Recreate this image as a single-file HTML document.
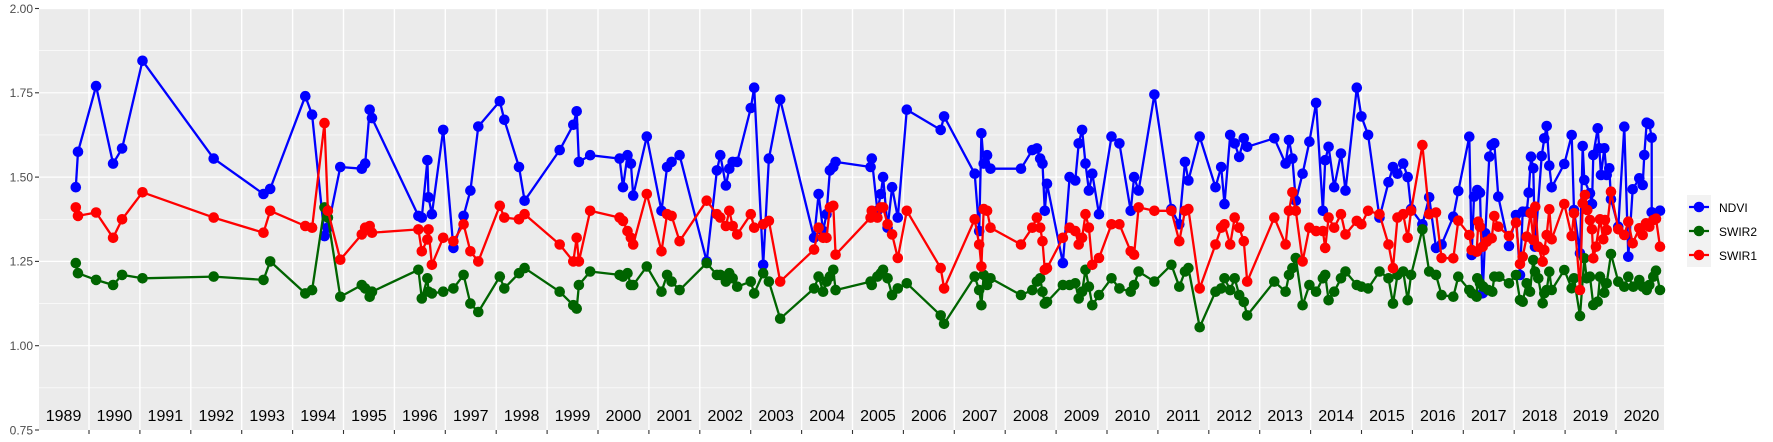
<!DOCTYPE html>
<html><head><meta charset="utf-8"><style>
html,body{margin:0;padding:0;background:#fff;}
svg{display:block;font-family:"Liberation Sans",sans-serif;}
</style></head><body>
<svg id="s" width="1773" height="442" viewBox="0 0 1773 442" xmlns="http://www.w3.org/2000/svg">
<rect x="39" y="8" width="1625" height="422" fill="#EBEBEB"/>
<g id="grid"></g>
<g id="series"></g>
<g id="axes" font-size="12" fill="#4D4D4D"></g>
<g id="leg">
<rect x="1687" y="195" width="24" height="72" fill="#F2F2F2"/>
<line x1="1689" y1="207" x2="1709" y2="207" stroke="#0000FF" stroke-width="2.3"/><circle cx="1699" cy="207" r="5.3" fill="#0000FF"/>
<line x1="1689" y1="231" x2="1709" y2="231" stroke="#006400" stroke-width="2.3"/><circle cx="1699" cy="231" r="5.3" fill="#006400"/>
<line x1="1689" y1="255" x2="1709" y2="255" stroke="#FF0000" stroke-width="2.3"/><circle cx="1699" cy="255" r="5.3" fill="#FF0000"/>
<text x="1719" y="212" font-size="12" fill="#000">NDVI</text>
<text x="1719" y="236" font-size="12" fill="#000">SWIR2</text>
<text x="1719" y="260" font-size="12" fill="#000">SWIR1</text>
</g>
</svg>
<script>
var NS="http://www.w3.org/2000/svg";
function el(p,t,a,txt){var e=document.createElementNS(NS,t);for(var k in a)e.setAttribute(k,a[k]);if(txt!=null)e.textContent=txt;p.appendChild(e);return e;}
function Y(v){return 430-(v-0.75)*337.2;}
function XY(t){return 89+(t-1990)*50.9;}
var g=document.getElementById('grid');
for(var v=0.875;v<2.0;v+=0.25)el(g,'line',{x1:39,x2:1664,y1:Y(v),y2:Y(v),stroke:'#fff','stroke-width':0.6});
for(var v=1.0;v<=2.0;v+=0.25)el(g,'line',{x1:39,x2:1664,y1:Y(v),y2:Y(v),stroke:'#fff','stroke-width':1.2});
for(var yr=1990;yr<=2020;yr++){var x=XY(yr);el(g,'line',{x1:x,x2:x,y1:8,y2:430,stroke:'#fff','stroke-width':1.4});}
var ax=document.getElementById('axes');
[0.75,1.0,1.25,1.5,1.75,2.0].forEach(function(v){el(ax,'text',{x:33,y:Y(v)+4.3,'text-anchor':'end'},v.toFixed(2));el(ax,'line',{x1:35,x2:39,y1:Y(v),y2:Y(v),stroke:'#333','stroke-width':1.1});});
for(var yr=1990;yr<=2020;yr++){var x=XY(yr);el(ax,'line',{x1:x,x2:x,y1:430,y2:434,stroke:'#333','stroke-width':1.1});}
for(var yr=1989;yr<=2020;yr++){var x=XY(yr+0.5);el(ax,'text',{x:x,y:421,'text-anchor':'middle','font-size':16,fill:'#000'},String(yr));}
var D=[[67,1.47,1.245,1.41],[69,1.575,1.215,1.385],[85,1.77,1.195,1.395],[100,1.54,1.18,1.32],[108,1.585,1.21,1.375],[126,1.845,1.2,1.455],[189,1.555,1.205,1.38],[233,1.45,1.195,1.335],[239,1.465,1.25,1.40],[270,1.74,1.155,1.355],[276,1.685,1.165,1.35],[287,1.325,1.41,1.66],[290,1.35,1.38,1.40],[301,1.53,1.145,1.255],[320,1.525,1.18,1.33],[323,1.54,1.17,1.35],[327,1.70,1.145,1.355],[329,1.675,1.16,1.335],[370,1.385,1.225,1.345],[373,1.38,1.14,1.28],[378,1.55,1.20,1.315],[379,1.44,1.16,1.345],[382,1.39,1.155,1.24],[392,1.64,1.16,1.32],[401,1.29,1.17,1.31],[410,1.385,1.21,1.36],[416,1.46,1.125,1.28],[423,1.65,1.10,1.25],[442,1.725,1.205,1.415],[446,1.67,1.17,1.38],[459,1.53,1.215,1.375],[464,1.43,1.23,1.39],[495,1.58,1.16,1.30],[507,1.655,1.12,1.25],[510,1.695,1.11,1.32],[512,1.545,1.18,1.25],[522,1.565,1.22,1.40],[548,1.555,1.21,1.38],[551,1.47,1.205,1.37],[555,1.565,1.215,1.34],[558,1.54,1.18,1.32],[560,1.445,1.18,1.30],[572,1.62,1.235,1.45],[585,1.40,1.16,1.28],[590,1.53,1.21,1.39],[594,1.545,1.19,1.385],[601,1.565,1.165,1.31],[625,1.25,1.245,1.43],[634,1.52,1.21,1.39],[637,1.565,1.21,1.38],[642,1.475,1.19,1.355],[645,1.525,1.215,1.40],[648,1.545,1.20,1.355],[652,1.545,1.175,1.33],[664,1.705,1.19,1.39],[667,1.765,1.155,1.35],[675,1.24,1.215,1.36],[680,1.555,1.19,1.37],[690,1.73,1.08,1.19],[720,1.32,1.17,1.285],[724,1.45,1.205,1.35],[728,1.34,1.16,1.32],[731,1.39,1.19,1.32],[734,1.52,1.205,1.41],[737,1.53,1.225,1.415],[739,1.545,1.165,1.27],[770,1.53,1.19,1.38],[771,1.555,1.18,1.40],[776,1.40,1.205,1.38],[779,1.45,1.215,1.41],[781,1.50,1.225,1.41],[785,1.35,1.20,1.36],[789,1.47,1.15,1.33],[794,1.38,1.17,1.26],[802,1.70,1.185,1.40],[832,1.64,1.09,1.23],[835,1.68,1.065,1.17],[862,1.51,1.205,1.375],[866,1.34,1.165,1.30],[868,1.63,1.12,1.235],[870,1.54,1.21,1.405],[873,1.565,1.18,1.40],[876,1.525,1.20,1.35],[903,1.525,1.15,1.30],[913,1.58,1.165,1.35],[917,1.585,1.19,1.38],[920,1.555,1.20,1.35],[922,1.54,1.16,1.31],[924,1.40,1.125,1.225],[926,1.48,1.13,1.23],[940,1.245,1.18,1.32],[946,1.50,1.18,1.35],[951,1.49,1.185,1.34],[954,1.60,1.14,1.30],[957,1.64,1.16,1.32],[960,1.54,1.225,1.39],[963,1.46,1.175,1.35],[966,1.51,1.12,1.24],[972,1.39,1.15,1.26],[983,1.62,1.20,1.36],[990,1.60,1.17,1.36],[1000,1.40,1.16,1.28],[1003,1.50,1.18,1.27],[1007,1.46,1.22,1.41],[1021,1.745,1.19,1.40],[1036,1.405,1.24,1.40],[1043,1.36,1.175,1.31],[1048,1.545,1.22,1.40],[1051,1.49,1.23,1.405],[1061,1.62,1.055,1.17],[1075,1.47,1.16,1.30],[1080,1.53,1.17,1.35],[1083,1.42,1.2,1.36],[1088,1.625,1.165,1.30],[1092,1.60,1.2,1.38],[1096,1.56,1.15,1.35],[1100,1.615,1.13,1.31],[1103,1.59,1.09,1.19],[1127,1.615,1.19,1.38],[1137,1.54,1.16,1.30],[1140,1.61,1.21,1.40],[1143,1.555,1.23,1.455],[1146,1.43,1.26,1.40],[1152,1.51,1.12,1.25],[1158,1.605,1.18,1.35],[1164,1.72,1.16,1.34],[1170,1.40,1.2,1.34],[1172,1.55,1.21,1.29],[1175,1.59,1.135,1.38],[1180,1.47,1.16,1.35],[1186,1.57,1.20,1.39],[1190,1.46,1.22,1.33],[1200,1.765,1.18,1.37],[1204,1.68,1.175,1.36],[1210,1.625,1.17,1.40],[1220,1.38,1.22,1.39],[1228,1.485,1.2,1.30],[1232,1.53,1.125,1.23],[1236,1.51,1.21,1.38],[1241,1.54,1.22,1.39],[1245,1.50,1.135,1.32],[1248,1.405,1.21,1.40],[1258,1.36,1.345,1.595],[1264,1.44,1.22,1.39],[1270,1.29,1.21,1.395],[1275,1.30,1.15,1.26]];
var TB=[460,650,475,573,508,410,515,765,522,590,532,570,540,578,548,880,556,700,568,470,575,435,583,430,595,590,627,738,648,645,660,825,668,635,680,635,686,578,693,470,700,505,705,740,725,468,733,415,740,378,748,497,755,562,793,492,815,405,822,630,840,760,848,438,853,540,870,580,876,612,880,465,893,385,898,445,903,525,913,445,920,525,928,505,933,598,955,680,973,380,985,770,998,568,1018,535,1028,555,1033,465,1040,368,1048,372,1055,413,1055,637,1080,632];
var TG=[460,890,475,830,508,870,515,880,530,890,532,835,540,850,550,860,565,870,577,875,583,830,598,830,627,850,648,825,660,900,668,905,680,850,690,875,700,780,705,815,715,835,728,910,733,880,740,870,748,815,755,870,793,810,815,865,822,835,840,948,853,775,860,835,870,830,880,915,893,905,900,830,913,878,920,850,933,762,955,845,973,860,985,830,1000,860,1018,840,1028,860,1040,870,1048,855,1060,830,1068,812,1080,870];
var TR=[460,775,475,662,508,705,515,750,530,755,535,665,540,680,548,740,560,725,575,715,583,648,595,680,627,708,648,668,660,792,668,770,680,710,692,640,700,720,706,620,715,740,728,785,733,750,740,705,748,628,755,718,793,612,815,708,822,640,840,870,848,610,855,585,862,630,870,660,876,688,880,775,888,740,900,658,910,718,915,660,920,690,933,575,955,688,973,705,985,665,998,730,1018,685,1028,705,1038,670,1048,680,1060,660,1068,656,1080,740];
var tails=[TB,TG,TR];
var sg=document.getElementById('series');
var cols=['#0000FF','#006400','#FF0000'];
for(var c=0;c<3;c++){
  var pts=D.map(function(d){return [d[0]*1.1307,Y(d[c+1])];});
  var T=tails[c];
  for(var i=0;i<T.length;i+=2)pts.push([1300+T[i]/3,T[i+1]/3]);
  el(sg,'polyline',{points:pts.map(function(p){return p[0].toFixed(1)+','+p[1].toFixed(1);}).join(' '),fill:'none',stroke:cols[c],'stroke-width':2.3,'stroke-linejoin':'round'});
  pts.forEach(function(p){el(sg,'circle',{cx:p[0].toFixed(1),cy:p[1].toFixed(1),r:5.3,fill:cols[c]});});
}
</script>
</body></html>
